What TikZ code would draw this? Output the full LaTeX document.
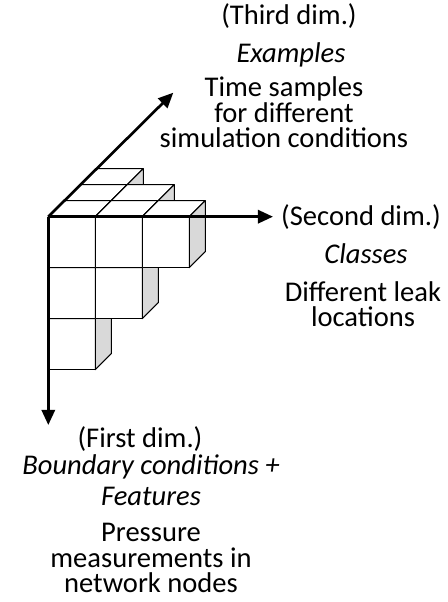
\documentclass[tikz,border=0pt]{standalone}
\usepackage{fontspec}
\setmainfont{Carlito}
\usetikzlibrary{arrows.meta}

\definecolor{sidegray}{RGB}{217,217,217}

\tikzset{
    cubeface/.style={draw=black, fill=white, line width=0.8pt, line join=round},
    cubeside/.style={draw=black, fill=sidegray, line width=0.8pt, line join=round},
    axis/.style={line width=2pt, -{Triangle[length=4mm,width=3.5mm]}},
    dimtext/.style={anchor=base, align=center, inner sep=0pt,
        font=\fontsize{21.5}{19.5}\selectfont},
}

\begin{document}
\begin{tikzpicture}[x=0.2646cm, y=0.2646cm]
    \useasboundingbox (0,0) rectangle (44.8,60.2);

    % corner of the data cube and ends of the three axes
    \coordinate (O) at (4.83,38.53);
    \coordinate (first) at (4.83,17.7);
    \coordinate (second) at (27.3,38.53);
    \coordinate (third) at (17.33,50.93);

    % voxels, back to front: row/column/depth
    \foreach \r/\c/\d in {0/0/2, 1/0/1, 0/0/1, 0/1/1, 2/0/0, 1/0/0, 1/1/0, 0/0/0, 0/1/0, 0/2/0} {
        \begin{scope}[shift={(4.83+\c*4.7+\d*1.6, 38.53-\r*5.1-5.1+\d*1.6)}]
            \draw[cubeface] (0,0) rectangle (4.7,5.1);
            \draw[cubeface] (0,5.1) -- (1.6,6.7) -- (6.3,6.7) -- (4.7,5.1) -- cycle;
            \draw[cubeside] (4.7,0) -- (6.3,1.6) -- (6.3,6.7) -- (4.7,5.1) -- cycle;
        \end{scope}
    }

    \draw[axis] (O) -- (first);
    \draw[axis] (O) -- (second);
    \draw[axis] (O) -- (third);

    % third dimension (base of a multi-line node = its last line)
    \node[dimtext] (thirdlabel) at (28.9,57.7) {(Third dim.)};
    \node[dimtext] (thirdname) at (29.1,53.9) {\itshape Examples};
    \node[dimtext] (thirddesc) at (28.4,45.4) {Time samples\\for different\\simulation conditions};

    % second dimension
    \node[dimtext] (secondlabel) at (36.1,37.6) {(Second dim.)};
    \node[dimtext] (secondname) at (36.6,33.8) {\itshape Classes};
    \node[dimtext] (seconddesc) at (36.3,27.5) {Different leak\\locations};

    % first dimension
    \node[dimtext] (firstlabel) at (14.0,15.4) {(First dim.)};
    \node[dimtext] (firstname) at (15.1,9.6) {\itshape Boundary conditions +\\[4pt]\itshape Features};
    \node[dimtext] (firstdesc) at (15.1,0.9) {Pressure\\measurements in\\network nodes};
\end{tikzpicture}
\end{document}
